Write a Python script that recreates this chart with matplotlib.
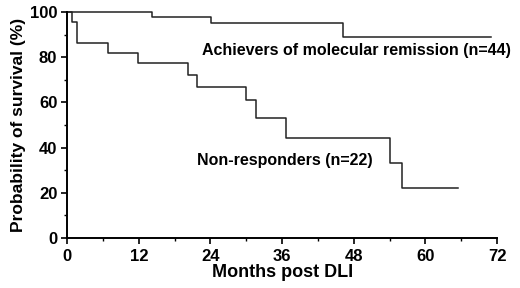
import matplotlib
matplotlib.use("Agg")
import matplotlib.pyplot as plt
from matplotlib.ticker import MultipleLocator

plt.rcParams['font.family'] = ['Liberation Sans', 'DejaVu Sans']
plt.rcParams['font.weight'] = 'bold'

# Kaplan-Meier steps (months, survival %)
achievers_t = [0, 14.2, 24.1, 46.2, 70.9]
achievers_s = [100, 97.7, 95.3, 89.0, 89.0]

nonresp_t = [0, 0.9, 1.6, 6.9, 11.8, 20.3, 21.7, 30.0, 31.7, 36.6, 54.1, 56.0, 65.4]
nonresp_s = [100, 95.5, 86.4, 81.8, 77.3, 72.3, 67.0, 61.0, 53.0, 44.4, 33.3, 22.2, 22.2]

x_ticks = [0, 12, 24, 36, 48, 60, 72]
y_ticks = [0, 20, 40, 60, 80, 100]

fig = plt.figure(figsize=(5.2, 2.88), dpi=100)
ax = fig.add_axes([0.129, 0.174, 0.827, 0.784])

ax.step(achievers_t, achievers_s, where='post', color='#222222', lw=1.1, clip_on=False)
ax.step(nonresp_t, nonresp_s, where='post', color='#222222', lw=1.1, clip_on=False)

ax.text(22.6, 83.2, 'Achievers of molecular remission (n=44)', fontsize=11.5,
        fontweight='bold', va='center', ha='left')
ax.text(21.7, 34.3, 'Non-responders (n=22)', fontsize=11.5,
        fontweight='bold', va='center', ha='left')

ax.set_xlim(0, 72)
ax.set_ylim(0, 100)
ax.set_xticks(x_ticks)
ax.set_yticks(y_ticks)
ax.set_xticklabels([str(v) for v in x_ticks], fontweight='bold')
ax.set_yticklabels([str(v) for v in y_ticks], fontweight='bold')
ax.xaxis.set_minor_locator(MultipleLocator(6))
ax.yaxis.set_minor_locator(MultipleLocator(10))

for side in ['top', 'right']:
    ax.spines[side].set_visible(False)
for side in ['left', 'bottom']:
    ax.spines[side].set_linewidth(1.4)

ax.tick_params(which='major', direction='out', length=4, width=1.2, labelsize=12)
ax.tick_params(axis='x', which='major', pad=4)
ax.tick_params(axis='y', which='major', pad=3)
ax.tick_params(which='minor', direction='out', length=2.5, width=1.0)

ax.set_xlabel('Months post DLI', fontsize=13, fontweight='bold', labelpad=0)
ax.set_ylabel('Probability of survival (%)', fontsize=12.5, fontweight='bold', labelpad=3)

plt.savefig('out.png', dpi=100)
